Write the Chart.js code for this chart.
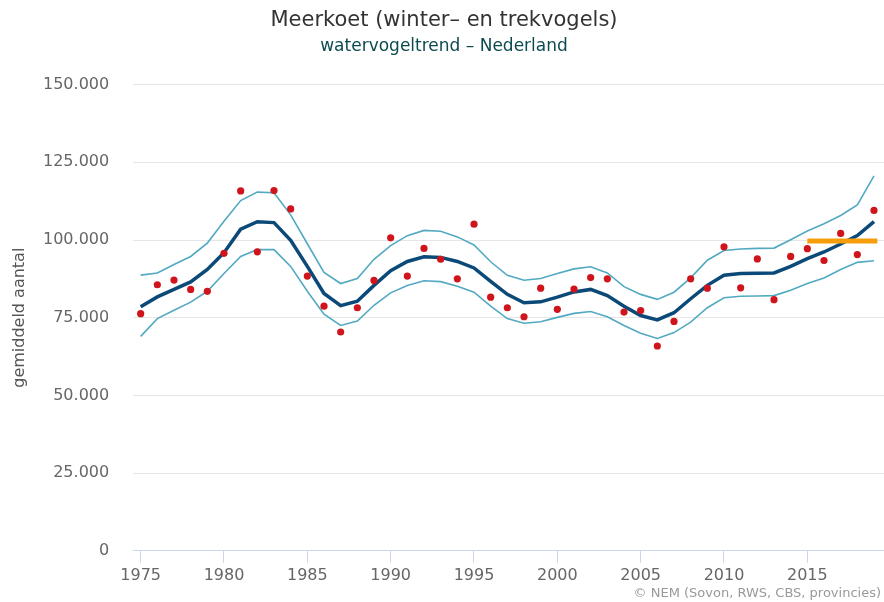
<!DOCTYPE html>
<html>
<head>
<meta charset="utf-8">
<script src="https://cdn.jsdelivr.net/npm/chart.js@4"></script>
<style>
    html, body { margin: 0; padding: 0; background: #fff; }
    #wrap { position: relative; width: 884px; height: 602px; }
    #credits { position: absolute; right: 3px; bottom: 2px; font: 13px "DejaVu Sans", sans-serif; color: #999; }
</style>
</head>
<body>
<div id="wrap">
    <canvas id="chart" width="884" height="602"></canvas>
    <div id="credits">© NEM (Sovon, RWS, CBS, provincies)</div>
</div>
<script>
// Meerkoet - watervogeltrend
const years = [1975, 1976, 1977, 1978, 1979, 1980, 1981, 1982, 1983, 1984,
    1985, 1986, 1987, 1988, 1989, 1990, 1991, 1992, 1993, 1994,
    1995, 1996, 1997, 1998, 1999, 2000, 2001, 2002, 2003, 2004,
    2005, 2006, 2007, 2008, 2009, 2010, 2011, 2012, 2013, 2014,
    2015, 2016, 2017, 2018, 2019];

// index (red dots)
const counts = [76300, 85600, 87100, 84100, 83500, 95700, 115800, 96200, 115900, 110000,
    88400, 78700, 70400, 78200, 87000, 100700, 88400, 97300, 93800, 87500,
    105100, 81600, 78200, 75300, 84500, 77700, 84200, 87900, 87500, 76800,
    77300, 65900, 73800, 87500, 84500, 97800, 84600, 93900, 80800, 94700,
    97200, 93400, 102100, 95300, 109500];

// smoothed trend
const trend = [78500, 81700, 84100, 86500, 90500, 95900, 103500, 105900, 105600, 99900,
    91500, 82800, 78900, 80300, 85400, 90150, 93100, 94600, 94400, 93100,
    91000, 86700, 82500, 79800, 80100, 81600, 83300, 84100, 82100, 78700,
    75700, 74300, 76600, 81100, 85400, 88650, 89200, 89300, 89400, 91500,
    94000, 96150, 98700, 101400, 105900];

// confidence band
const upper = [88700, 89400, 92100, 94700, 99000, 106000, 112700, 115400, 115200, 108100,
    98800, 89600, 86000, 87600, 93800, 98200, 101400, 103100, 102800, 101000,
    98400, 93000, 88650, 87050, 87600, 89200, 90700, 91400, 89400, 85000,
    82500, 80900, 83200, 87800, 93500, 96600, 97100, 97300, 97400, 100100,
    102900, 105200, 107900, 111300, 120600];

const lower = [69000, 74700, 77400, 80000, 83500, 89200, 94700, 96900, 96900, 91500,
    83500, 76100, 72500, 73900, 79000, 83000, 85350, 86900, 86600, 85100,
    83200, 78700, 74700, 73200, 73700, 75100, 76400, 77000, 75300, 72500,
    70000, 68300, 70200, 73600, 78200, 81400, 81900, 82000, 82100, 83800,
    86000, 87800, 90500, 92800, 93300];

// reference level 2015-2019
const refYears = [2015, 2019.2];
const refLevel = [99700, 99700];

const xTicks = [1975, 1980, 1985, 1990, 1995, 2000, 2005, 2010, 2015];
const yTicks = [0, 25000, 50000, 75000, 100000, 125000, 150000];

function pts(xs, ys) {
    return xs.map((x, i) => ({ x: x, y: ys[i] }));
}

function fmt(v) {
    return String(v).replace(/\B(?=(\d{3})+(?!\d))/g, '.');
}

const FONT = '"DejaVu Sans", sans-serif';

new Chart(document.getElementById('chart'), {
    type: 'scatter',
    data: {
        datasets: [
            {
                label: 'Index',
                data: pts(years, counts),
                backgroundColor: '#d0141c',
                borderWidth: 0,
                pointRadius: 3.6,
                order: 1
            },
            {
                label: 'Referentie',
                data: pts(refYears, refLevel),
                showLine: true,
                borderColor: '#f59d0a',
                borderWidth: 5,
                borderCapStyle: 'butt',
                pointRadius: 0,
                order: 2
            },
            {
                label: 'Trend',
                data: pts(years, trend),
                showLine: true,
                borderColor: '#0b4a78',
                borderWidth: 3.5,
                pointRadius: 0,
                order: 3
            },
            {
                label: 'Bovengrens',
                data: pts(years, upper),
                showLine: true,
                borderColor: '#52a9c2',
                borderWidth: 1.6,
                pointRadius: 0,
                order: 4
            },
            {
                label: 'Ondergrens',
                data: pts(years, lower),
                showLine: true,
                borderColor: '#52a9c2',
                borderWidth: 1.6,
                pointRadius: 0,
                order: 4
            }
        ]
    },
    options: {
        responsive: false,
        animation: false,
        layout: { autoPadding: false, padding: { left: 4, right: 0, top: 4, bottom: 14 } },
        plugins: {
            legend: { display: false },
            tooltip: { enabled: false },
            title: {
                display: true,
                text: 'Meerkoet (winter– en trekvogels)',
                color: '#333',
                font: { family: FONT, size: 21, weight: 'normal' },
                padding: { top: 4, bottom: 1 }
            },
            subtitle: {
                display: true,
                text: 'watervogeltrend – Nederland',
                color: '#0d4a4f',
                font: { family: FONT, size: 17, weight: 'normal' },
                padding: { top: 2, bottom: 28 }
            }
        },
        scales: {
            x: {
                type: 'linear',
                min: 1974.55,
                max: 2019.6,
                afterBuildTicks: (scale) => { scale.ticks = xTicks.map(v => ({ value: v })); },
                grid: {
                    drawOnChartArea: false,
                    drawTicks: true,
                    tickLength: 12,
                    color: '#ccd6eb'
                },
                border: { display: true, color: '#ccd6eb', width: 1 },
                ticks: {
                    color: '#666',
                    font: { family: FONT, size: 16 },
                    padding: 3,
                    maxRotation: 0,
                    callback: (v) => String(v)
                }
            },
            y: {
                min: 0,
                max: 150000,
                afterBuildTicks: (scale) => { scale.ticks = yTicks.map(v => ({ value: v })); },
                grid: { color: '#e6e6e6', drawTicks: false },
                border: { display: false },
                ticks: {
                    color: '#666',
                    font: { family: FONT, size: 16 },
                    padding: 24,
                    callback: (v) => fmt(v)
                },
                title: {
                    display: true,
                    text: 'gemiddeld aantal',
                    color: '#555',
                    font: { family: FONT, size: 16 },
                    // negative bottom pad lets the title sit in the label gap
                    padding: { top: 6.4, bottom: -10.6 }
                }
            }
        }
    }
});
</script>
</body>
</html>
